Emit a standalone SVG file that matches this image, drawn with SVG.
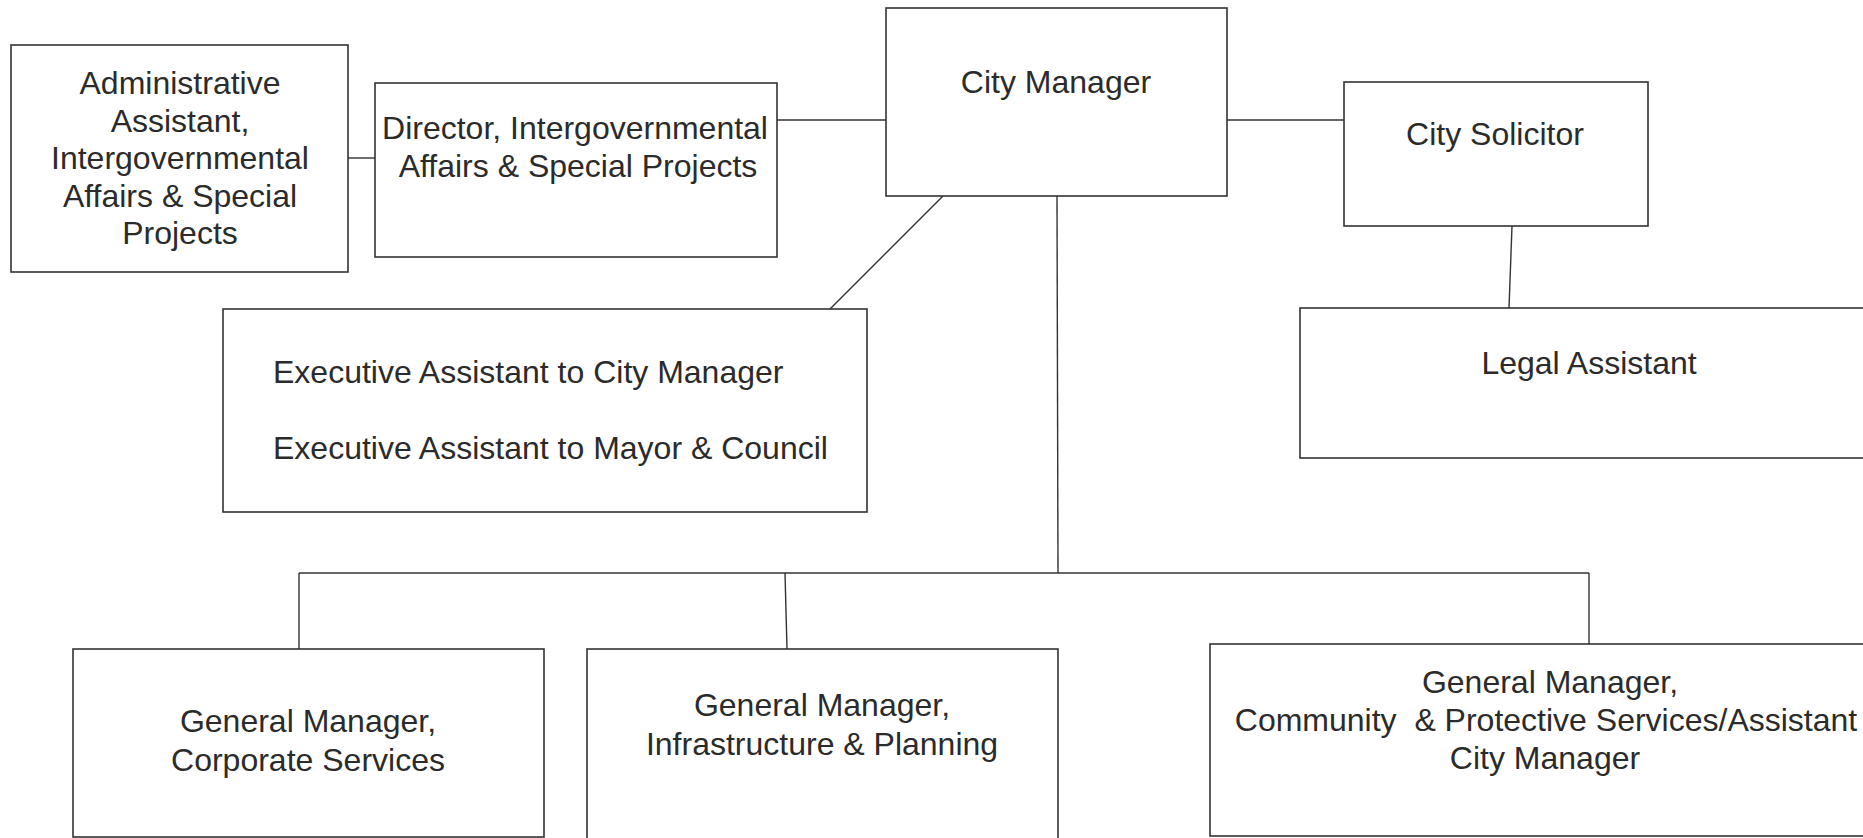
<svg xmlns="http://www.w3.org/2000/svg" width="1863" height="838" viewBox="0 0 1863 838">
<style>
.box{fill:#fff;stroke:#333;stroke-width:1.6}
.ln{stroke:#333;stroke-width:1.4;fill:none}
text{font-family:"Liberation Sans",Arial,sans-serif;font-size:32px;fill:#2b2b2b}
.c{text-anchor:middle}
</style>
<rect width="1863" height="838" fill="#fff"/>
<g id="connectors">
<line class="ln" x1="348" y1="158" x2="375" y2="158"/>
<line class="ln" x1="777" y1="120" x2="886" y2="120"/>
<line class="ln" x1="1227" y1="120" x2="1344" y2="120"/>
<line class="ln" x1="1512" y1="226" x2="1509" y2="308"/>
<line class="ln" x1="943" y1="196" x2="830" y2="309"/>
<line class="ln" x1="1057" y1="196" x2="1058" y2="573"/>
<line class="ln" x1="299" y1="573" x2="1589" y2="573"/>
<line class="ln" x1="299" y1="573" x2="299" y2="649"/>
<line class="ln" x1="785" y1="573" x2="787" y2="649"/>
<line class="ln" x1="1589" y1="573" x2="1589" y2="644"/>
</g>
<g id="admin-assistant">
<rect class="box" x="11" y="45" width="337" height="227"/>
<text class="c" x="180" y="94">Administrative</text>
<text class="c" x="180" y="131.5">Assistant,</text>
<text class="c" x="180" y="169">Intergovernmental</text>
<text class="c" x="180" y="206.5">Affairs &amp; Special</text>
<text class="c" x="180" y="244">Projects</text>
</g>
<g id="director">
<rect class="box" x="375" y="83" width="402" height="174"/>
<text class="c" x="575" y="139">Director, Intergovernmental</text>
<text class="c" x="578" y="177">Affairs &amp; Special Projects</text>
</g>
<g id="city-manager">
<rect class="box" x="886" y="8" width="341" height="188"/>
<text class="c" x="1056" y="93">City Manager</text>
</g>
<g id="city-solicitor">
<rect class="box" x="1344" y="82" width="304" height="144"/>
<text class="c" x="1495" y="145">City Solicitor</text>
</g>
<g id="legal-assistant">
<rect class="box" x="1300" y="308" width="580" height="150"/>
<text class="c" x="1589" y="374">Legal Assistant</text>
</g>
<g id="executive-assistants">
<rect class="box" x="223" y="309" width="644" height="203"/>
<text x="273" y="383">Executive Assistant to City Manager</text>
<text x="273" y="459">Executive Assistant to Mayor &amp; Council</text>
</g>
<g id="gm-corporate">
<rect class="box" x="73" y="649" width="471" height="188"/>
<text class="c" x="308" y="732">General Manager,</text>
<text class="c" x="308" y="771">Corporate Services</text>
</g>
<g id="gm-infrastructure">
<rect class="box" x="587" y="649" width="471" height="200"/>
<text class="c" x="822" y="716">General Manager,</text>
<text class="c" x="822" y="755">Infrastructure &amp; Planning</text>
</g>
<g id="gm-community">
<rect class="box" x="1210" y="644" width="670" height="192"/>
<text class="c" x="1550" y="693">General Manager,</text>
<text class="c" x="1546" y="731" xml:space="preserve">Community  &amp; Protective Services/Assistant</text>
<text class="c" x="1545" y="769">City Manager</text>
</g>
</svg>
